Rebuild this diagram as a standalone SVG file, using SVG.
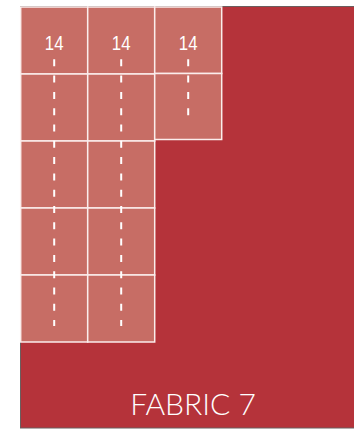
<svg xmlns="http://www.w3.org/2000/svg" width="354" height="429" viewBox="0 0 354 429">
<style>
.tile{fill:#C76D65;stroke:#FBEDEC;stroke-width:1.5}
.num{font-family:"Liberation Sans",Arial,sans-serif;font-size:21px;fill:#FFFFFF;text-anchor:middle}
.dash{stroke:#FFFFFF;stroke-width:2;stroke-dasharray:7 9.3;fill:none}
.label{font-family:"Lato","Liberation Sans",Arial,sans-serif;font-weight:300;font-size:30px;fill:#FFFFFF;text-anchor:middle}
</style>
<rect width="354" height="429" fill="#FFFFFF"/>
<g id="fabric">
<rect x="20.5" y="6.5" width="340" height="421.5" fill="#B5333A" stroke="#6B5E5E" stroke-width="1"/>
<text class="label" x="193" y="415">FABRIC 7</text>
</g>
<g id="strip1">
<rect class="tile" x="20.7" y="7" width="67" height="67"/>
<rect class="tile" x="20.7" y="74" width="67" height="67"/>
<rect class="tile" x="20.7" y="141" width="67" height="67"/>
<rect class="tile" x="20.7" y="208" width="67" height="67"/>
<rect class="tile" x="20.7" y="275" width="67" height="67"/>
<text class="num" x="54.2" y="50" transform="translate(54.2 0) scale(0.8 1) translate(-54.2 0)">14</text>
</g>
<g id="strip2">
<rect class="tile" x="87.7" y="7" width="67" height="67"/>
<rect class="tile" x="87.7" y="74" width="67" height="67"/>
<rect class="tile" x="87.7" y="141" width="67" height="67"/>
<rect class="tile" x="87.7" y="208" width="67" height="67"/>
<rect class="tile" x="87.7" y="275" width="67" height="67"/>
<text class="num" x="121.2" y="50" transform="translate(121.2 0) scale(0.8 1) translate(-121.2 0)">14</text>
</g>
<g id="strip3">
<rect class="tile" x="154.7" y="7" width="67" height="66.5"/>
<rect class="tile" x="154.7" y="73.5" width="67" height="66"/>
<text class="num" x="188.2" y="50" transform="translate(188.2 0) scale(0.8 1) translate(-188.2 0)">14</text>
</g>
<g id="connectors">
<line class="dash" x1="54.2" y1="59.3" x2="54.2" y2="326"/>
<line class="dash" x1="121.2" y1="59.3" x2="121.2" y2="326"/>
<line class="dash" x1="188.2" y1="59.3" x2="188.2" y2="124"/>
</g>
</svg>
